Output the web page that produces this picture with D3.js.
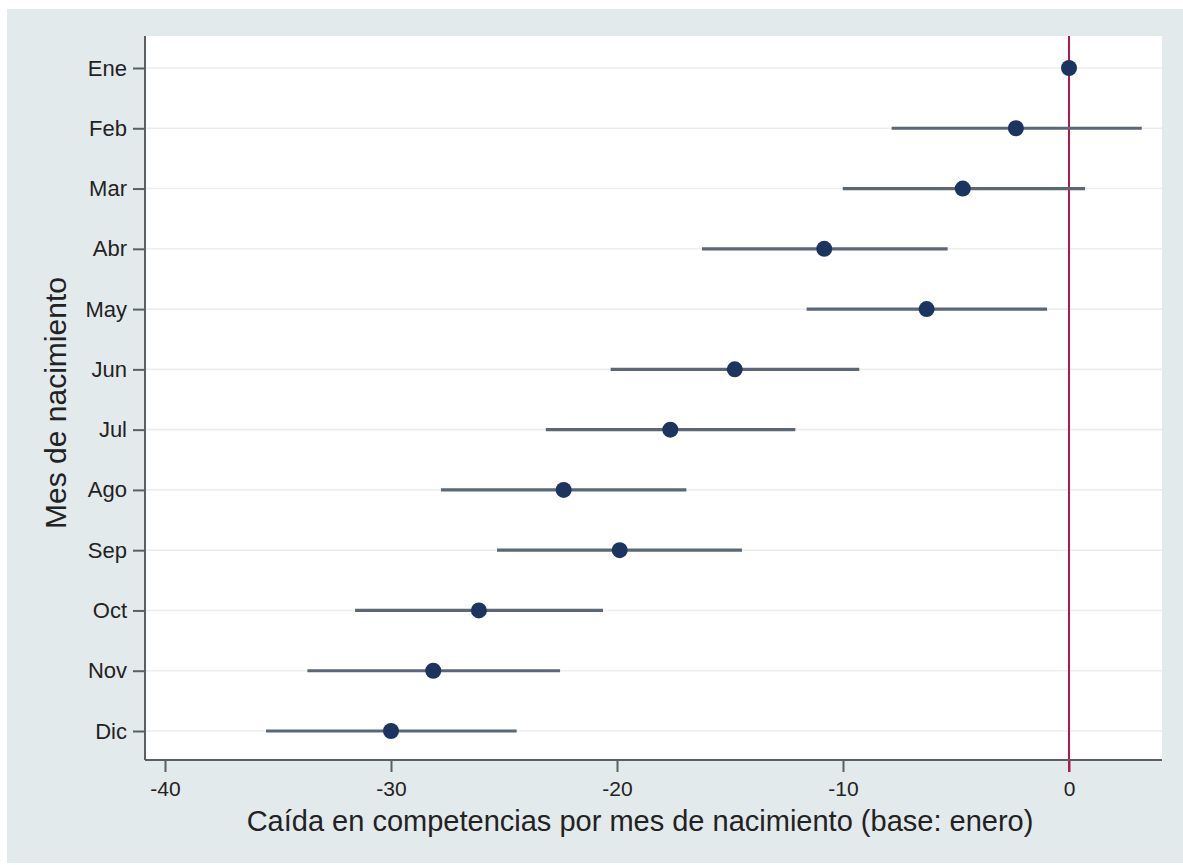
<!DOCTYPE html>
<html>
<head>
<meta charset="utf-8">
<script src="https://cdn.jsdelivr.net/npm/d3@7"></script>
<style>
  html, body { margin: 0; padding: 0; background: #ffffff; }
  svg { display: block; font-family: "Liberation Sans", Arial, Helvetica, sans-serif; }
</style>
</head>
<body>
<svg id="chart" width="1183" height="865"></svg>
<script>
// Birth months (base: January)
const months = ["Ene", "Feb", "Mar", "Abr", "May", "Jun", "Jul", "Ago", "Sep", "Oct", "Nov", "Dic"];
// Point estimates
const estimates = [0, -2.35, -4.7, -10.83, -6.3, -14.79, -17.64, -22.36, -19.88, -26.11, -28.13, -30.0];
// Confidence interval bounds (null for the base month)
const lower = [null, -7.85, -10.01, -16.24, -11.61, -20.28, -23.15, -27.79, -25.31, -31.59, -33.70, -35.53];
const upper = [null, 3.22, 0.71, -5.37, -0.97, -9.28, -12.11, -16.93, -14.47, -20.62, -22.52, -24.44];
// X-axis ticks
const xTicks = [-40, -30, -20, -10, 0];

const xTitle = "Caída en competencias por mes de nacimiento (base: enero)";
const yTitle = "Mes de nacimiento";

const rows = months.map((m, i) => ({ month: m, est: estimates[i], lo: lower[i], hi: upper[i] }));

const svg = d3.select("#chart");

// Outer panel
svg.append("rect")
  .attr("x", 7).attr("y", 9).attr("width", 1176).attr("height", 854)
  .attr("fill", "#e3eaec");

const plot = { left: 145, top: 36, right: 1162, bottom: 760 };

// Plot region
svg.append("rect")
  .attr("x", plot.left).attr("y", plot.top)
  .attr("width", plot.right - plot.left).attr("height", plot.bottom - plot.top)
  .attr("fill", "#ffffff");

const x = d3.scaleLinear().domain([-40, 0]).range([165, 1069]);
const y = d3.scalePoint().domain(months).range([68, 731]);

// Horizontal grid
svg.append("g")
  .selectAll("line")
  .data(months)
  .join("line")
  .attr("x1", plot.left).attr("x2", plot.right)
  .attr("y1", d => y(d)).attr("y2", d => y(d))
  .attr("stroke", "#eceeee").attr("stroke-width", 1.6);

// Reference line at zero
svg.append("line")
  .attr("x1", x(0)).attr("x2", x(0))
  .attr("y1", plot.top).attr("y2", plot.bottom + 12)
  .attr("stroke", "#b2184a").attr("stroke-width", 2);

// Confidence intervals
svg.append("g")
  .selectAll("line")
  .data(rows.filter(d => d.lo !== null))
  .join("line")
  .attr("x1", d => x(d.lo)).attr("x2", d => x(d.hi))
  .attr("y1", d => y(d.month)).attr("y2", d => y(d.month))
  .attr("stroke", "#5b6775").attr("stroke-width", 3.2);

// Point estimates
svg.append("g")
  .selectAll("circle")
  .data(rows)
  .join("circle")
  .attr("cx", d => x(d.est)).attr("cy", d => y(d.month))
  .attr("r", 8)
  .attr("fill", "#1b3460");

// X axis
const xAxis = svg.append("g")
  .attr("transform", `translate(0,${plot.bottom})`)
  .call(d3.axisBottom(x).tickValues(xTicks).tickSize(12).tickPadding(9).tickFormat(d => String(d)));
xAxis.select(".domain").remove();
xAxis.append("line")
  .attr("x1", plot.left).attr("x2", plot.right)
  .attr("y1", 0).attr("y2", 0)
  .attr("stroke", "#5a5f63").attr("stroke-width", 2);
xAxis.selectAll(".tick line").attr("stroke", "#5a5f63").attr("stroke-width", 2);
xAxis.selectAll(".tick").filter(d => d === 0).select("line").attr("stroke", "#b2184a");
xAxis.selectAll(".tick text")
  .attr("fill", "#222").attr("font-size", 21)
  .attr("font-family", "'Liberation Sans', Arial, sans-serif");

// Y axis
const yAxis = svg.append("g")
  .attr("transform", `translate(${plot.left},0)`)
  .call(d3.axisLeft(y).tickSize(12).tickPadding(6));
yAxis.select(".domain").remove();
yAxis.append("line")
  .attr("x1", 0).attr("x2", 0)
  .attr("y1", plot.top).attr("y2", plot.bottom)
  .attr("stroke", "#5a5f63").attr("stroke-width", 2);
yAxis.selectAll(".tick line").attr("stroke", "#5a5f63").attr("stroke-width", 2);
yAxis.selectAll(".tick text")
  .attr("fill", "#222").attr("font-size", 22)
  .attr("font-family", "'Liberation Sans', Arial, sans-serif");

// Axis titles
svg.append("text")
  .attr("x", 640).attr("y", 831)
  .attr("text-anchor", "middle")
  .attr("font-size", 29).attr("fill", "#222")
  .text(xTitle);

svg.append("text")
  .attr("transform", "translate(66,403) rotate(-90)")
  .attr("text-anchor", "middle")
  .attr("font-size", 30).attr("fill", "#222")
  .text(yTitle);
</script>
</body>
</html>
